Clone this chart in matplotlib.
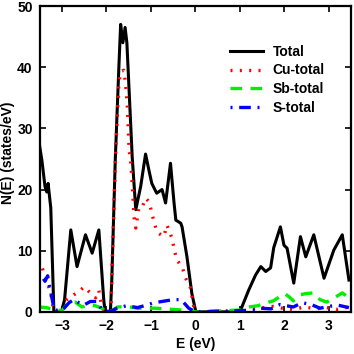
import matplotlib
matplotlib.use('Agg')
import matplotlib.pyplot as plt

# Total DOS
e_total = [-3.52, -3.45, -3.38, -3.34, -3.31, -3.25, -3.18, -3.01, -2.94, -2.80, -2.66,
           -2.47, -2.32, -2.17, -2.06, -2.03, -1.91, -1.88, -1.80, -1.72, -1.68, -1.63,
           -1.58, -1.54, -1.42, -1.34, -1.23, -1.12, -1.04, -0.98, -0.87, -0.75, -0.67,
           -0.56, -0.48, -0.44, -0.33, -0.30, -0.19, -0.08, 0.01, 1.0, 1.2, 1.35, 1.47,
           1.58, 1.69, 1.76, 1.91, 1.99, 2.06, 2.21, 2.36, 2.48, 2.66, 2.89, 3.11, 3.30, 3.45]
n_total = [28, 24.8, 20.5, 19.6, 21, 17, 0, 0, 2, 13.4, 7.4,
           12.6, 9.6, 13.4, 2, 0, 0, 5, 25, 40, 47, 44,
           46.5, 44, 25.3, 16.7, 20.5, 25.8, 23, 21, 19.4, 20, 17.8,
           24.3, 17.8, 15, 14.5, 13.9, 9, 3, 0, 0, 3.6, 6, 7.4,
           6.6, 7.2, 10.5, 13.9, 10.9, 10.4, 4.7, 12.3, 9, 12.6, 5.5, 10.1, 12.6, 5.2]

# Cu-total
e_cu = [-3.52, -3.47, -3.37, -3.25, -3.18, -3.0, -2.89, -2.73, -2.62, -2.50, -2.39, -2.24,
        -2.17, -2.10, -2.04, -1.90, -1.87, -1.79, -1.72, -1.68, -1.61, -1.57, -1.53, -1.49,
        -1.46, -1.42, -1.38, -1.34, -1.27, -1.20, -1.12, -1.04, -0.93, -0.86, -0.71, -0.64,
        -0.53, -0.48, -0.42, -0.30, -0.22, -0.11, -0.03, 0.0, 1.0, 1.3, 1.55, 1.75, 1.95,
        2.2, 2.45, 2.7, 2.95, 3.2, 3.45]
n_cu = [8.5, 7.7, 5.8, 3, 0, 0, 2, 2.8, 3.3, 4.1, 3.3, 2.3,
        3.5, 0.8, 0, 0, 8, 26.5, 37.4, 39.3, 39.5, 37.4, 33.5, 26.5,
        24.8, 21, 15.5, 13.7, 17, 17, 18.6, 18, 14.7, 13, 12.3, 14.2,
        12.1, 10.4, 8.5, 7.4, 5.5, 3.9, 0.6, 0, 0, 0.5, 0.7, 0.9, 0.6,
        0.4, 0.8, 0.5, 0.7, 0.4, 0.8]

# Sb-total
e_sb = [-3.52, -3.35, -3.20, -3.0, -2.85, -2.70, -2.55, -2.40, -2.25, -2.10, -2.02, -1.90,
        -1.75, -1.55, -1.30, -1.10, -0.90, -0.70, -0.50, -0.30, -0.10, 0.0, 1.0, 1.2,
        1.4, 1.6, 1.75, 1.9, 2.0, 2.1, 2.2, 2.35, 2.5, 2.65, 2.8, 2.95, 3.1, 3.3, 3.45]
n_sb = [0.8, 0.7, 0.4, 0.2, 1.5, 1.6, 0.8, 1.1, 1.0, 0.6, 0.1, 0.1,
        0.8, 0.9, 0.6, 0.6, 0.6, 0.5, 0.4, 0.3, 0.2, 0, 0.3, 0.8,
        1.0, 1.5, 1.8, 2.5, 3.0, 2.5, 1.8, 2.8, 3.0, 3.1, 2.0, 1.6, 2.2, 3.1, 2.3]

# S-total
e_s = [-3.52, -3.45, -3.38, -3.32, -3.28, -3.23, -3.17, -3.0, -2.84, -2.73, -2.62, -2.51,
       -2.36, -2.21, -2.10, -2.02, -1.90, -1.76, -1.55, -1.30, -1.10, -0.93, -0.75, -0.50,
       -0.32, -0.15, 0.0, 1.0, 1.3, 1.45, 1.7, 1.9, 2.05, 2.2, 2.4, 2.6, 2.8, 3.0, 3.2, 3.45]
n_s = [6.6, 5.8, 5.0, 5.9, 4.2, 2.5, 0.3, 0.2, 1.5, 2.0, 1.5, 1.1,
       1.7, 1.7, 0.3, 0.1, 0.1, 0.6, 1.0, 0.7, 1.1, 1.5, 1.7, 2.0,
       2.0, 0.6, 0, 0.2, 0.3, 0.6, 0.5, 1.2, 1.0, 0.8, 1.5, 1.2, 0.6, 0.9, 1.1, 0.7]

plt.rcParams['font.family'] = ['Liberation Sans', 'DejaVu Sans']
plt.rcParams['font.weight'] = 'bold'

fig = plt.figure(figsize=(3.54, 3.54), dpi=100)
ax = fig.add_axes([0.112, 0.119, 0.880, 0.864])

ax.plot(e_total, n_total, color='black', lw=2.2, label='Total')
ax.plot(e_cu, n_cu, color='red', lw=2.4, linestyle=(0, (0.6, 2.2)), label='Cu-total')
ax.plot(e_sb, n_sb, color='#00ee00', lw=2.4, linestyle=(0, (3.5, 2.5)), label='Sb-total')
ax.plot(e_s, n_s, color='blue', lw=2.4, linestyle=(0, (0.6, 2, 3.5, 2)), label='S-total')

ax.set_xlim(-3.5, 3.5)
ax.set_ylim(0, 50)
ax.set_xticks([-3, -2, -1, 0, 1, 2, 3])
ax.set_yticks([0, 10, 20, 30, 40, 50])
ax.tick_params(direction='in', top=True, right=True, length=4, width=1.2,
               labelsize=10, pad=5)
for sp in ax.spines.values():
    sp.set_linewidth(1.6)

ax.set_xlabel('E (eV)', fontsize=10, fontweight='bold', labelpad=3)
ax.set_ylabel('N(E) (states/eV)', fontsize=10, fontweight='bold')
ax.yaxis.set_label_coords(-0.078, 0.52)

ax.legend(loc='upper left', bbox_to_anchor=(0.57, 0.915), frameon=False,
          fontsize=10, handlelength=2.4, labelspacing=0.35, handletextpad=0.7)

plt.savefig('out.png', dpi=100)
